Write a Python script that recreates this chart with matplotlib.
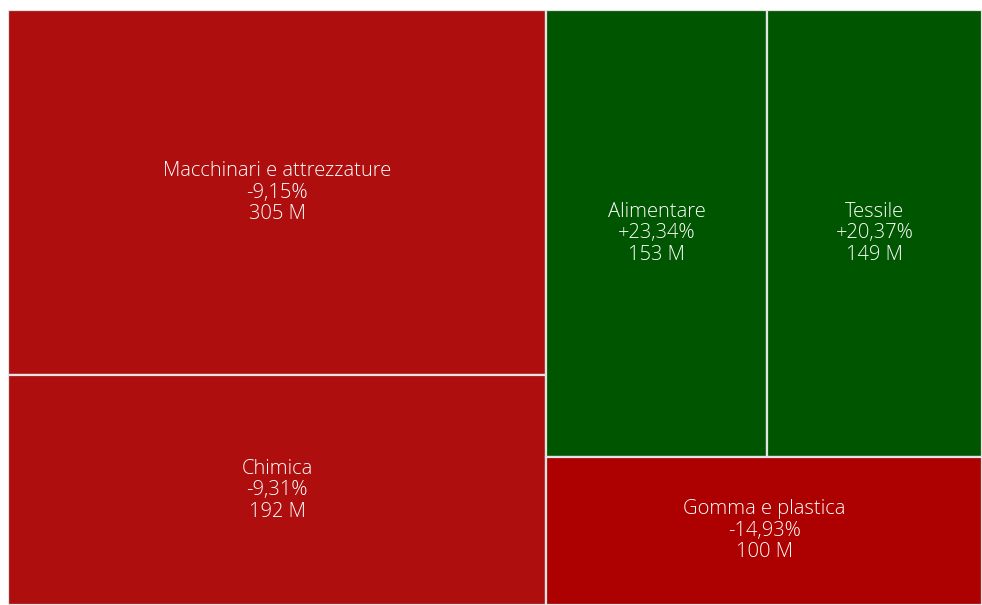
import matplotlib.pyplot as plt
from matplotlib.patches import Rectangle

# Export values by sector (millions) and year-on-year change
settori = ['Macchinari e attrezzature', 'Chimica', 'Alimentare', 'Tessile', 'Gomma e plastica']
valori = [305, 192, 153, 149, 100]
variazioni = ['-9,15%', '-9,31%', '+23,34%', '+20,37%', '-14,93%']
colori = ['#ae0e0e', '#ae0e0e', '#005500', '#005500', '#ad0000']

totale = sum(valori)

# Layout: left column (first two stacked), right column with two side by side on top
W, H = 1.0, 1.0
rects = []
w_left = W * (valori[0] + valori[1]) / totale
h0 = H * valori[0] / (valori[0] + valori[1])
rects.append((0, H - h0, w_left, h0))
rects.append((0, 0, w_left, H - h0))
resto = valori[2] + valori[3] + valori[4]
h_top = H * (valori[2] + valori[3]) / resto
w_right = W - w_left
w2 = w_right * valori[2] / (valori[2] + valori[3])
rects.append((w_left, H - h_top, w2, h_top))
rects.append((w_left + w2, H - h_top, w_right - w2, h_top))
rects.append((w_left, 0, w_right, H - h_top))

fig = plt.figure(figsize=(9.82, 6.05), dpi=100)
ax = fig.add_axes([8 / 982, 0, 974 / 982, 595 / 605])
ax.set_xlim(0, W)
ax.set_ylim(0, H)
ax.axis('off')

for (x, y, w, h), nome, val, var, col in zip(rects, settori, valori, variazioni, colori):
    ax.add_patch(Rectangle((x, y), w, h, facecolor=col, edgecolor='#e4e4e4', linewidth=1.6))
    ax.text(x + w / 2, y + h / 2, f'{nome}\n{var}\n{val} M', ha='center', va='center',
            color='white', fontsize=14.5, family='Open Sans', fontweight='light',
            linespacing=1.1)

fig.savefig('out.png', dpi=100)
